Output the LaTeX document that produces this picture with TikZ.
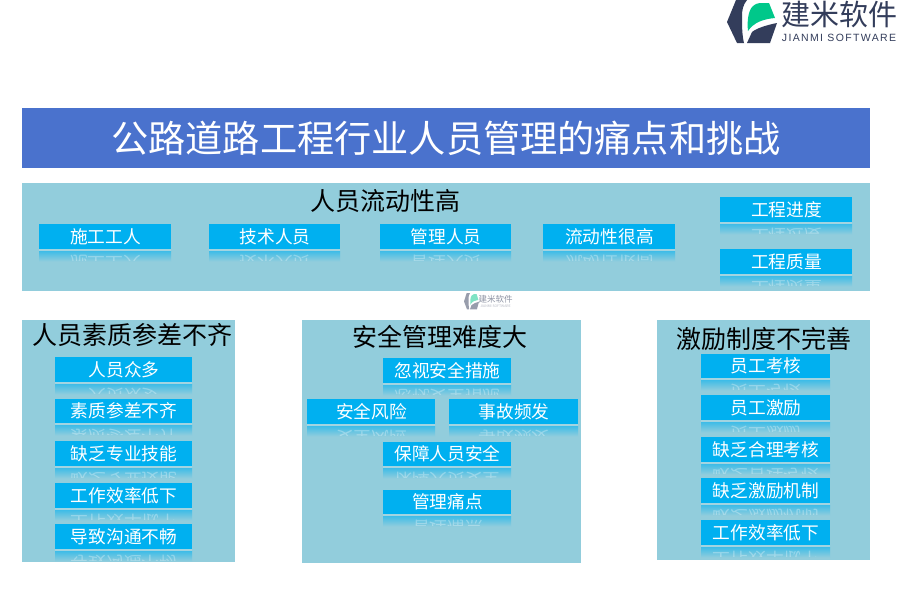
\documentclass[tikz,border=0pt]{standalone}
\usepackage{fontspec}
\setmainfont{Noto Sans CJK SC}
\newfontfamily\latinlogo[LetterSpace=13]{Liberation Sans}
\definecolor{titlebg}{HTML}{4A72CD}
\definecolor{panelbg}{HTML}{92CDDC}
\definecolor{chipbg}{HTML}{00B0F0}
\definecolor{logodark}{HTML}{333D5B}
\definecolor{logogreen}{HTML}{00C88A}
\tikzset{
  txt/.style={inner sep=0pt,font=\fontsize{#1}{#1}\selectfont,text height=#1*0.88pt,text depth=#1*0.12pt,align=center},
  panel/.style={fill=panelbg,draw=none},
  chip/.style={fill=chipbg,draw=none},
  ghost/.style={txt=17.7,white,opacity=.3,transform shape,yscale=-1},
}
% name, x1, y1, x2, y2, text
\newcommand{\chipbox}[6]{
  \fill[panelbg!85!white] (#2,#5) rectangle (#4,#5+2.5);
  \fill[top color=chipbg!55!panelbg,bottom color=panelbg] (#2,#5+2.5) rectangle (#4,#5+12.5);
  \begin{scope}
    \clip (#2,#5+5) rectangle (#4,#5+11.5);
    \node[ghost] (#1r) at ({(#2+#4)/2+0.5},{#5+2+(#5-#3)/2}) {#6};
  \end{scope}
  \path[chip] (#2,#3) rectangle (#4,#5);
  \node[txt=17.7,white] (#1) at ({(#2+#4)/2+0.5},{(#3+#5)/2}) {#6};
}
\newcommand{\logomark}{
  \fill[logodark] (9,0) -- (20,0) .. controls (16,5) and (15,10) .. (15,16) .. controls (15,25) and (15,35) .. (17,43) -- (10,43) -- (0,22) -- cycle;
  \fill[logodark] (20,43) -- (25,32) .. controls (30,28) and (40,25) .. (50,23) -- (43,43) -- cycle;
  \fill[logogreen] (21,31) .. controls (20,22) and (21,12) .. (25,7) .. controls (28,4) and (31,3) .. (33,3) -- (42,3) -- (48,18) .. controls (37,19) and (27,22) .. (21,31) -- cycle;
}
\begin{document}
\begin{tikzpicture}[x=1pt,y=-1pt]
\useasboundingbox (0,0) rectangle (900,600);
\fill[white] (0,0) rectangle (900,600);
% logo
\begin{scope}[shift={(727,0)}]
  \logomark
\end{scope}
\node[txt=29,logodark] (brand) at (839.5,14) {建米软件};
\node[inner sep=0pt,logodark,font=\latinlogo\fontsize{10.5}{11}\selectfont] (brandlat) at (839,38) {JIANMI SOFTWARE};
% title
\fill[titlebg] (22,108) rectangle (870,168);
\node[txt=37.2,white] (maintitle) at (446,138) {公路道路工程行业人员管理的痛点和挑战};
% panels
\path[panel] (22,183) rectangle (870,291);
\path[panel] (22,320) rectangle (235,562);
\path[panel] (302,320) rectangle (581,563);
\path[panel] (657,320) rectangle (870,560);
% watermark
\begin{scope}[shift={(464,293)},xscale=.3,yscale=.38,opacity=.5]
  \logomark
\end{scope}
\node[txt=8.5,logodark,opacity=.55] (wm) at (495.5,299) {建米软件};
\node[inner sep=0pt,logodark,opacity=.35,font=\fontsize{3.5}{4}\selectfont] (wmlat) at (495.5,306.5) {JIANMI SOFTWARE};
% panel titles
\node[txt=25,black] (t1) at (385,201) {人员流动性高};
\node[txt=25,black] (t2) at (132.5,335) {人员素质参差不齐};
\node[txt=25,black] (t3) at (440,337) {安全管理难度大};
\node[txt=25,black] (t4) at (764,339) {激励制度不完善};
% panel 1
\chipbox{a}{39}{224}{171}{249}{施工工人}
\chipbox{b}{209}{224}{340}{249}{技术人员}
\chipbox{c}{380}{224}{511}{249}{管理人员}
\chipbox{d}{543}{224}{675}{249}{流动性很高}
\chipbox{e}{720}{197}{852}{222}{工程进度}
\chipbox{f}{720}{249}{852}{274}{工程质量}
% panel 2
\chipbox{g}{55}{357}{192}{382}{人员众多}
\chipbox{h}{55}{399}{192}{423}{素质参差不齐}
\chipbox{i}{55}{441}{192}{466}{缺乏专业技能}
\chipbox{j}{55}{483}{192}{508}{工作效率低下}
\chipbox{k}{55}{524}{192}{549}{导致沟通不畅}
% panel 3
\chipbox{l}{383}{358}{511}{383}{忽视安全措施}
\chipbox{m}{307}{399}{435}{424}{安全风险}
\chipbox{n}{449}{399}{578}{424}{事故频发}
\chipbox{o}{383}{442}{511}{466}{保障人员安全}
\chipbox{p}{383}{490}{511}{514}{管理痛点}
% panel 4
\chipbox{q}{701}{354}{830}{378}{员工考核}
\chipbox{r}{701}{395}{830}{420}{员工激励}
\chipbox{s}{701}{437}{830}{462}{缺乏合理考核}
\chipbox{u}{701}{478}{830}{503}{缺乏激励机制}
\chipbox{v}{701}{520}{830}{545}{工作效率低下}
\end{tikzpicture}
\end{document}
